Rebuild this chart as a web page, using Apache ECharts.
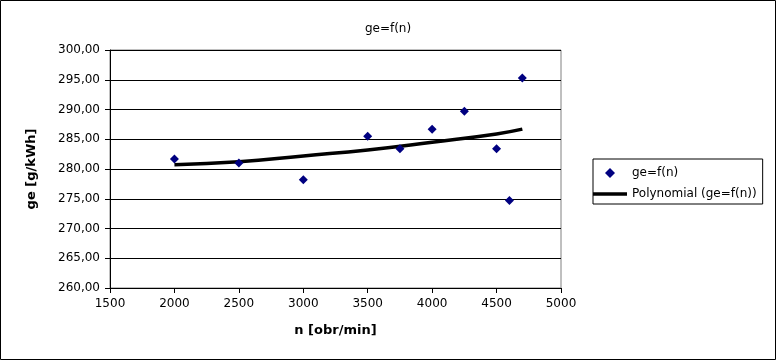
<!DOCTYPE html>
<html>
<head>
<meta charset="utf-8">
<script src="https://cdn.jsdelivr.net/npm/echarts@6/dist/echarts.min.js"></script>
<style>
html,body{margin:0;padding:0;background:#fff;}
#chart{width:776px;height:360px;}
</style>
</head>
<body>
<div id="chart"></div>
<script>
// Measured points: n [obr/min] and ge [g/kWh]
const nValues = [2000, 2500, 3000, 3500, 3750, 4000, 4250, 4500, 4600, 4700];
const geValues = [281.7, 281.0, 278.2, 285.5, 283.4, 286.7, 289.7, 283.4, 274.7, 295.3];
// Polynomial trend line
const trendN = [2000, 2500, 3000, 3500, 4000, 4500, 4700];
const trendGe = [280.7, 281.2, 282.2, 283.2, 284.5, 285.9, 286.7];
const yTicks = { min: 260, max: 300, step: 5 };
const xTicks = { min: 1500, max: 5000, step: 500 };
const seriesName = 'ge=f(n)';
const trendName = 'Polynomial (ge=f(n))';

const FONT = 'DejaVu Sans';
const chart = echarts.init(document.getElementById('chart'), null, { renderer: 'canvas' });
const option = {
  animation: false,
  backgroundColor: '#fff',
  textStyle: { fontFamily: FONT, color: '#000' },
  title: {
    text: 'ge=f(n)',
    left: 'center',
    top: 18,
    textStyle: { fontFamily: FONT, fontSize: 12, fontWeight: 'normal', color: '#000' }
  },
  grid: {
    left: 110, right: 215, top: 50, bottom: 72,
    show: true, borderColor: '#808080', borderWidth: 1, backgroundColor: '#fff'
  },
  legend: {
    orient: 'vertical',
    left: 593, top: 159,
    width: 174,
    padding: [8, 6, 4, 0],
    itemGap: 9,
    itemWidth: 34,
    itemHeight: 10,
    symbolKeepAspect: true,
    borderColor: '#000',
    borderWidth: 1,
    textStyle: { fontFamily: FONT, fontSize: 12, color: '#000', padding: [0, 0, 0, 0] },
    data: [
      { name: seriesName, icon: 'path://M4,0L8,4L4,8L0,4Z', itemStyle: { color: '#000080', opacity: 1 } },
      { name: trendName, icon: 'path://M0,0H34V3.6H0Z', itemStyle: { color: '#000', opacity: 1 } }
    ]
  },
  xAxis: {
    type: 'value',
    min: xTicks.min, max: xTicks.max, interval: xTicks.step,
    name: 'n [obr/min]',
    nameLocation: 'middle',
    nameGap: 36,
    nameTextStyle: { fontFamily: FONT, fontSize: 13, fontWeight: 'bold', color: '#000' },
    axisLine: { show: true, onZero: false, lineStyle: { color: '#000', width: 1 } },
    axisTick: { show: true, inside: false, length: 5, lineStyle: { color: '#000' } },
    axisLabel: { fontFamily: FONT, fontSize: 12, color: '#000', margin: 10, formatter: v => String(v) },
    splitLine: { show: false }
  },
  yAxis: {
    type: 'value',
    min: yTicks.min, max: yTicks.max, interval: yTicks.step,
    name: 'ge [g/kWh]',
    nameLocation: 'middle',
    nameGap: 72,
    nameTextStyle: { fontFamily: FONT, fontSize: 13, fontWeight: 'bold', color: '#000' },
    axisLine: { show: true, onZero: false, lineStyle: { color: '#000', width: 1 } },
    axisTick: { show: true, inside: false, length: 5, lineStyle: { color: '#000' } },
    axisLabel: {
      fontFamily: FONT, fontSize: 12, color: '#000', margin: 10,
      formatter: v => v.toFixed(2).replace('.', ',')
    },
    splitLine: { show: true, lineStyle: { color: '#000', width: 1, type: 'solid' } }
  },
  series: [
    {
      name: seriesName,
      type: 'scatter',
      symbol: 'diamond',
      symbolSize: 9,
      itemStyle: { color: '#000080', opacity: 1 },
      data: nValues.map((n, i) => [n, geValues[i]]),
      z: 3
    },
    {
      name: trendName,
      type: 'line',
      smooth: true,
      symbol: 'none',
      lineStyle: { color: '#000', width: 3.5 },
      itemStyle: { color: '#000' },
      data: trendN.map((n, i) => [n, trendGe[i]]),
      z: 2
    }
  ],
  graphic: [
    {
      type: 'rect',
      shape: { x: 0.5, y: 0.5, width: 775, height: 359 },
      style: { fill: 'none', stroke: '#000', lineWidth: 1 },
      silent: true
    }
  ]
};
chart.setOption(option);
</script>
</body>
</html>
